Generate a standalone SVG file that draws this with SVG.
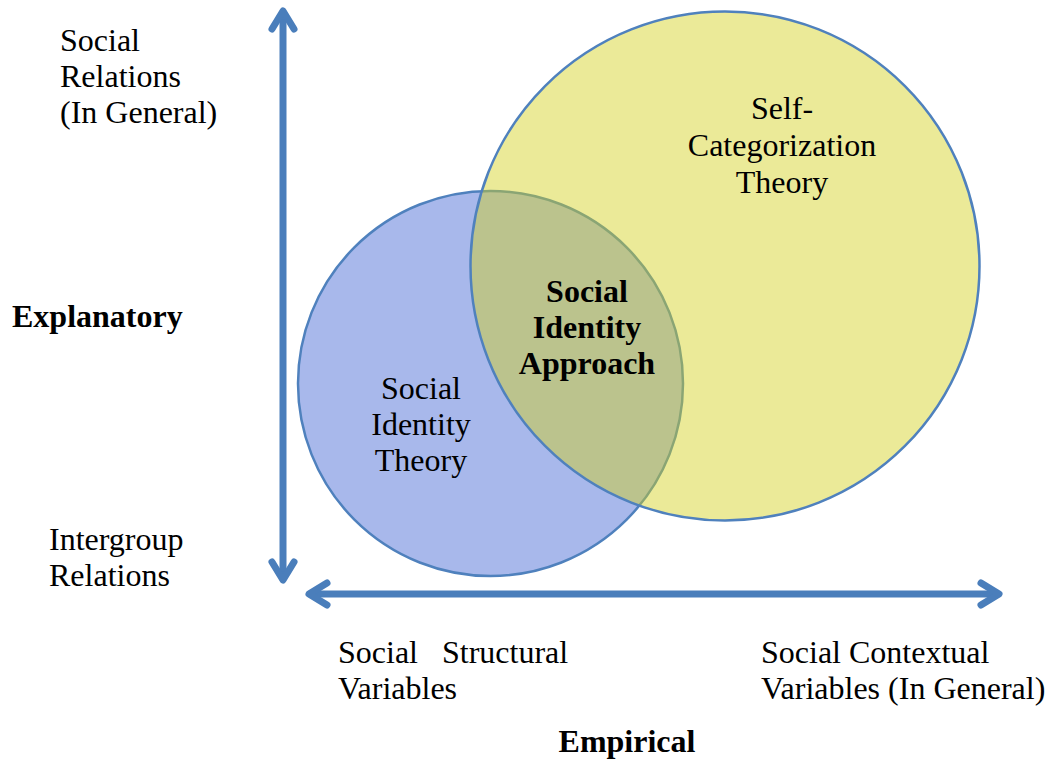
<svg xmlns="http://www.w3.org/2000/svg" width="1052" height="759" viewBox="0 0 1052 759">
<style>
.t{font-family:"Liberation Serif","Times New Roman",serif;font-size:32px;fill:#000}
.b{font-weight:bold}
.m{text-anchor:middle}
.axis{stroke:#4a7ebb;stroke-width:7;fill:none}
</style>
<defs>
<marker id="chev" markerUnits="userSpaceOnUse" markerWidth="50" markerHeight="50" viewBox="-30 -25 50 50" refX="0" refY="0" orient="auto-start-reverse" overflow="visible">
<path d="M-18,-11 L0,0 L-18,11" fill="none" stroke="#4a7ebb" stroke-width="7" stroke-linecap="round" stroke-linejoin="round"/>
</marker>
</defs>
<rect width="1052" height="759" fill="#fff"/>
<g id="connectors">
<line class="axis" x1="283" y1="11" x2="283" y2="580" marker-start="url(#chev)" marker-end="url(#chev)"/>
<line class="axis" x1="309" y1="594" x2="999" y2="594" marker-start="url(#chev)" marker-end="url(#chev)"/>
</g>
<g id="sit">
<circle cx="490.5" cy="383.5" r="192.5" fill="#a8b8eb" stroke="#4f81bd" stroke-width="2.5"/>
</g>
<g id="sct">
<circle cx="725" cy="266" r="254.5" fill="rgb(210,208,26)" fill-opacity="0.45" stroke="#4f81bd" stroke-width="2.5"/>
</g>
<g id="sit-label">
<text class="t m" x="421"><tspan x="421" y="399">Social</tspan><tspan x="421" y="435">Identity</tspan><tspan x="421" y="471">Theory</tspan></text>
</g>
<g id="sct-label">
<text class="t m" x="782"><tspan x="782" y="119">Self-</tspan><tspan x="782" y="156">Categorization</tspan><tspan x="782" y="193">Theory</tspan></text>
</g>
<g id="sia-label">
<text class="t b m" x="587"><tspan x="587" y="302">Social</tspan><tspan x="587" y="338">Identity</tspan><tspan x="587" y="374">Approach</tspan></text>
</g>
<g id="axis-labels">
<text class="t" x="60"><tspan x="60" y="51">Social</tspan><tspan x="60" y="87">Relations</tspan><tspan x="60" y="123">(In General)</tspan></text>
<text class="t b" x="12" y="327">Explanatory</text>
<text class="t" x="49"><tspan x="49" y="550">Intergroup</tspan><tspan x="49" y="586">Relations</tspan></text>
<text class="t" x="338"><tspan x="338" y="663">Social</tspan><tspan x="442" y="663">Structural</tspan><tspan x="338" y="699">Variables</tspan></text>
<text class="t" x="761"><tspan x="761" y="663">Social Contextual</tspan><tspan x="761" y="699">Variables (In General)</tspan></text>
<text class="t b m" x="627" y="752">Empirical</text>
</g>
</svg>
